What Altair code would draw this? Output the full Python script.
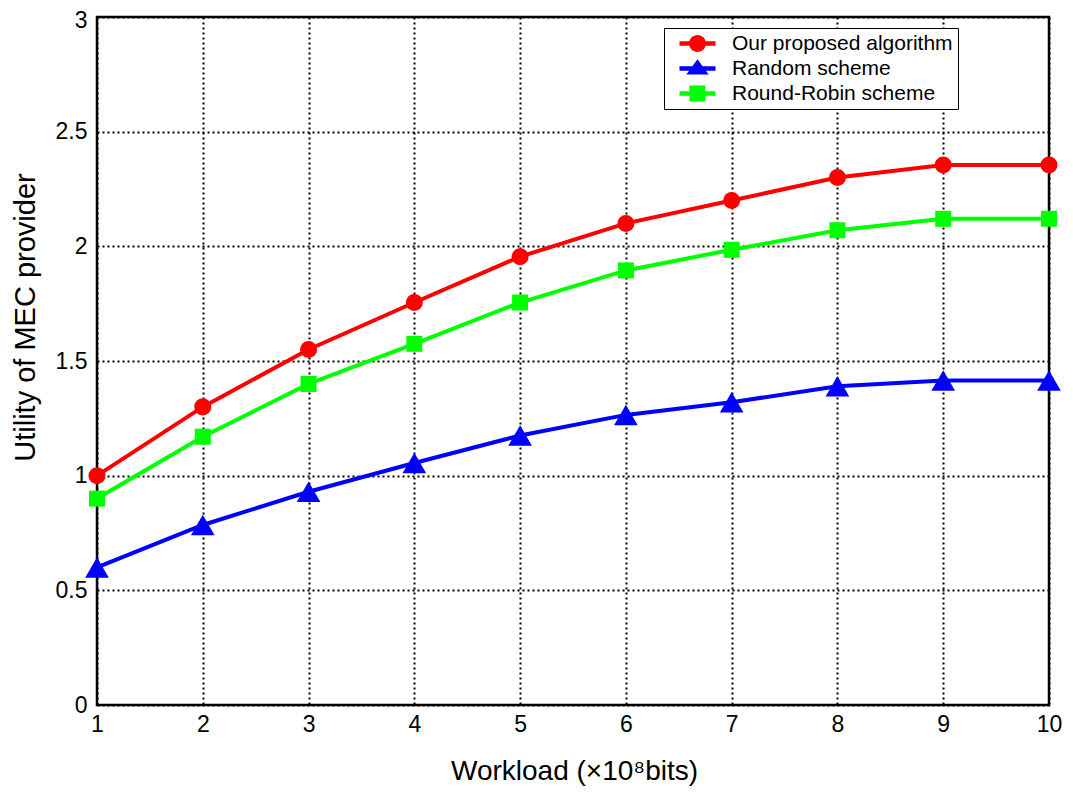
import altair as alt
import pandas as pd

workload = [1, 2, 3, 4, 5, 6, 7, 8, 9, 10]
proposed = [1.00, 1.30, 1.55, 1.755, 1.955, 2.10, 2.20, 2.30, 2.355, 2.355]
random_scheme = [0.60, 0.785, 0.93, 1.055, 1.175, 1.265, 1.32, 1.39, 1.415, 1.415]
round_robin = [0.90, 1.17, 1.40, 1.575, 1.755, 1.895, 1.985, 2.07, 2.12, 2.12]

names = ["Our proposed algorithm", "Random scheme", "Round-Robin scheme"]
colors = ["#ff0000", "#0000ff", "#00ff00"]

# legend glyphs: short line with the marker in its middle
legend_paths = [
    "M 0 -0.27 H 4.5 V 0.27 H 0 Z M 1.19 0 A 1.06 1.06 0 1 1 3.31 0 A 1.06 1.06 0 1 1 1.19 0 Z",
    "M 0 -0.27 H 4.5 V 0.27 H 0 Z M 2.25 -1.15 L 3.65 0.75 L 0.85 0.75 Z",
    "M 0 -0.27 H 4.5 V 0.27 H 0 Z M 1.25 -1.0 H 3.25 V 1.0 H 1.25 Z",
]

rows = []
for name, vals in zip(names, [proposed, random_scheme, round_robin]):
    for x, y in zip(workload, vals):
        rows.append({"x": x, "y": y, "series": name, "series2": name})
df = pd.DataFrame(rows)

FONT = "Liberation Sans"
W, H = 952, 688

xenc = alt.X("x:Q", scale=alt.Scale(domain=[1, 10], nice=False),
             axis=alt.Axis(values=workload, format="d", labelFlush=False,
                           title="Workload (×10⁸bits)",
                           titleX=477, titleY=74, titleBaseline="alphabetic",
                           titleFontSize=28, titleFontWeight="normal"))
yenc = alt.Y("y:Q", scale=alt.Scale(domain=[0, 3], nice=False),
             axis=alt.Axis(values=[0, 0.5, 1, 1.5, 2, 2.5, 3], format="~g",
                           labelFlush=False,
                           labelOffset={"condition": {"test": "datum.value == 3", "value": 3}, "value": 0},
                           title="Utility of MEC provider",
                           titleX=-63, titleY=300, titleAngle=-90,
                           titleBaseline="alphabetic",
                           titleFontSize=29, titleFontWeight="normal"))

cscale = alt.Scale(domain=names, range=colors)

lines = alt.Chart(df).mark_line(strokeWidth=4).encode(
    x=xenc, y=yenc,
    color=alt.Color("series:N", scale=cscale, legend=None),
    detail="series:N",
)

pts_circle = alt.Chart(df[df.series == names[0]]).mark_point(
    filled=True, opacity=1, size=290, shape="circle").encode(
    x="x:Q", y="y:Q", color=alt.Color("series:N", scale=cscale, legend=None))
pts_tri = alt.Chart(df[df.series == names[1]]).mark_point(
    filled=True, opacity=1, size=560, shape="triangle-up").encode(
    x="x:Q", y="y:Q", color=alt.Color("series:N", scale=cscale, legend=None))
pts_sq = alt.Chart(df[df.series == names[2]]).mark_point(
    filled=True, opacity=1, size=256, shape="square").encode(
    x="x:Q", y="y:Q", color=alt.Color("series:N", scale=cscale, legend=None))

visible = alt.layer(lines, pts_circle, pts_tri, pts_sq)

leg = alt.Legend(title=None, orient="none", legendX=567, legendY=11,
                 fillColor="white", strokeColor="black", padding=5,
                 symbolSize=256, symbolStrokeWidth=0, symbolOpacity=1,
                 labelFont=FONT, labelFontSize=21, labelOffset=42,
                 labelLimit=400, rowPadding=3, labelColor="black")

hidden = alt.Chart(df).mark_point(filled=True, opacity=0).encode(
    x="x:Q", y="y:Q",
    color=alt.Color("series2:N", scale=alt.Scale(domain=names, range=colors), legend=leg),
    shape=alt.Shape("series2:N", scale=alt.Scale(domain=names, range=legend_paths), legend=leg),
)

chart = alt.layer(visible, hidden).resolve_scale(
    color="independent", shape="independent"
).properties(
    width=W, height=H,
    autosize=alt.AutoSizeParams(type="none"),
    padding={"left": 89, "top": 9, "right": 16, "bottom": 87},
    background="white",
).configure_view(
    stroke="black", strokeWidth=2.5
).configure_axis(
    grid=True, gridColor="black", gridDash=[2, 3], gridWidth=2, gridOpacity=1,
    domain=False, ticks=False,
    labelFont=FONT, labelFontSize=23, labelColor="black",
    titleFont=FONT, titleColor="black",
).configure_axisY(
    labelPadding=10
).configure_axisX(
    labelPadding=8
)

chart.save("out.html", embed_options={"renderer": "svg", "actions": False})
